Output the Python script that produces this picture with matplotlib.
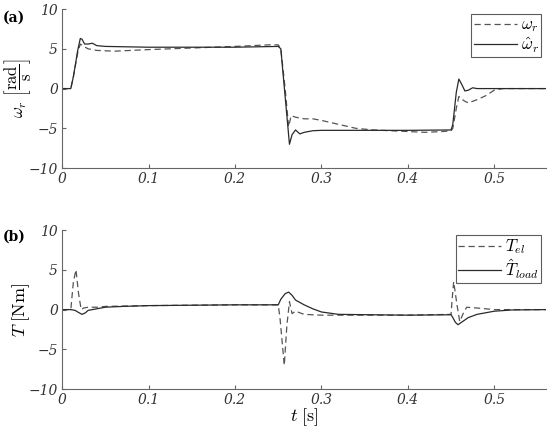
import matplotlib
matplotlib.use("Agg")
import matplotlib.pyplot as plt

plt.rcParams['mathtext.fontset'] = 'cm'
plt.rcParams['font.family'] = 'DejaVu Serif'

# predkosc katowa (a)
t_w = [0, 0.010, 0.013, 0.018, 0.021, 0.025, 0.03, 0.04, 0.06, 0.08, 0.1, 0.15, 0.2, 0.24,
       0.25, 0.253, 0.258, 0.262, 0.265, 0.27, 0.28, 0.29, 0.30, 0.32, 0.34, 0.36, 0.40, 0.42,
       0.44, 0.45, 0.452, 0.456, 0.459, 0.462, 0.466, 0.47, 0.48, 0.49, 0.5, 0.51, 0.56]
w_r = [0, 0, 1.5, 4.5, 5.6, 5.3, 5.0, 4.8, 4.7, 4.8, 4.9, 5.1, 5.3, 5.5,
       5.5, 5.0, 0, -4.8, -3.4, -3.6, -3.8, -3.8, -4.0, -4.5, -5.0, -5.2, -5.4, -5.5,
       -5.4, -5.3, -5.0, -2.5, -1.0, -1.3, -1.6, -1.8, -1.4, -0.9, -0.2, 0, 0]

t_wh = [0, 0.010, 0.013, 0.018, 0.021, 0.023, 0.026, 0.03, 0.035, 0.04, 0.05, 0.1, 0.15, 0.2,
        0.25, 0.253, 0.258, 0.263, 0.266, 0.27, 0.275, 0.28, 0.29, 0.3, 0.4, 0.45, 0.452,
        0.456, 0.459, 0.462, 0.466, 0.47, 0.475, 0.48, 0.56]
w_hat = [0, 0, 1.5, 4.8, 6.3, 6.2, 5.6, 5.6, 5.7, 5.4, 5.3, 5.2, 5.2, 5.2,
         5.3, 5.0, -1.0, -7.0, -5.8, -5.2, -5.7, -5.5, -5.3, -5.25, -5.25, -5.2, -4.5,
         -0.5, 1.2, 0.6, -0.3, -0.2, 0.1, 0, 0]

# momenty (b)
t_el = [0, 0.010, 0.013, 0.016, 0.019, 0.022, 0.025, 0.03, 0.04, 0.05, 0.1, 0.2, 0.25,
        0.252, 0.257, 0.260, 0.263, 0.266, 0.270, 0.28, 0.3, 0.4, 0.45, 0.451, 0.453,
        0.457, 0.460, 0.464, 0.468, 0.48, 0.5, 0.56]
T_el = [0, 0, 3.5, 5.0, 2.0, 0.0, 0.2, 0.3, 0.3, 0.4, 0.5, 0.6, 0.6,
        -1.0, -7.0, -2.0, 1.0, -0.5, -0.2, -0.6, -0.7, -0.7, -0.6, 1.0, 3.5,
        0.5, -1.5, -0.5, 0.3, 0.2, 0.0, 0.0]

t_load = [0, 0.010, 0.015, 0.018, 0.023, 0.027, 0.03, 0.04, 0.05, 0.07, 0.1, 0.2, 0.25,
          0.253, 0.258, 0.262, 0.266, 0.27, 0.28, 0.29, 0.30, 0.32, 0.4, 0.45, 0.452,
          0.455, 0.458, 0.462, 0.47, 0.48, 0.5, 0.52, 0.56]
T_load = [0, 0, -0.1, -0.3, -0.6, -0.4, -0.1, 0.1, 0.3, 0.4, 0.5, 0.6, 0.6,
          1.3, 2.0, 2.2, 1.8, 1.2, 0.6, 0.1, -0.3, -0.6, -0.7, -0.65, -1.0,
          -1.6, -1.9, -1.6, -1.0, -0.6, -0.2, -0.05, 0.0]

x_ticks = [0, 0.1, 0.2, 0.3, 0.4, 0.5]
x_labels = ['0', '0.1', '0.2', '0.3', '0.4', '0.5']
y_ticks = [-10, -5, 0, 5, 10]
y_labels = ['\u221210', '\u22125', '0', '5', '10']

fig = plt.figure(figsize=(5.5, 4.3), dpi=100)
ax1 = fig.add_axes([0.113, 0.609, 0.880, 0.370])
ax2 = fig.add_axes([0.113, 0.095, 0.880, 0.370])

ax1.plot(t_w, w_r, '--', dashes=(5, 3), color='#555555', lw=0.9, label=r'$\omega_r$')
ax1.plot(t_wh, w_hat, '-', color='#2a2a2a', lw=0.9, label=r'$\hat{\omega}_r$')
ax2.plot(t_el, T_el, '--', dashes=(5, 3), color='#555555', lw=0.9, label=r'$T_{el}$')
ax2.plot(t_load, T_load, '-', color='#2a2a2a', lw=0.9, label=r'$\hat{T}_{load}$')

for ax in (ax1, ax2):
    ax.set_xlim(0, 0.56)
    ax.set_ylim(-10, 10)
    ax.set_xticks(x_ticks)
    ax.set_xticklabels(x_labels, fontstyle='italic', fontsize=10)
    ax.set_yticks(y_ticks)
    ax.set_yticklabels(y_labels, fontstyle='italic', fontsize=10)
    ax.spines['top'].set_visible(False)
    ax.spines['right'].set_visible(False)
    ax.spines['left'].set_color('#666666')
    ax.spines['bottom'].set_color('#666666')
    ax.tick_params(direction='in', length=3, color='#666666', labelcolor='#333333', pad=3)
    leg = ax.legend(loc='upper right', fancybox=False, edgecolor='#333333',
                    handlelength=2.6, fontsize=12, borderpad=0.15, labelspacing=0.05,
                    handletextpad=0.2, borderaxespad=0.3)
    leg.get_frame().set_linewidth(0.8)

ax1.set_ylabel(r'$\omega_r\ \left[\dfrac{\mathrm{rad}}{\mathrm{s}}\right]$', fontsize=12)
ax1.yaxis.set_label_coords(-0.06, 0.5)
ax2.set_ylabel(r'$T\ [\mathrm{Nm}]$', fontsize=13)
ax2.yaxis.set_label_coords(-0.062, 0.5)
ax2.set_xlabel(r'$t\ [\mathrm{s}]$', fontsize=13)
ax2.xaxis.set_label_coords(0.5, -0.11)

fig.text(0.005, 0.975, '(a)', fontsize=10, fontweight='bold', va='top')
fig.text(0.005, 0.465, '(b)', fontsize=10, fontweight='bold', va='top')

fig.savefig('out.png', dpi=100)
